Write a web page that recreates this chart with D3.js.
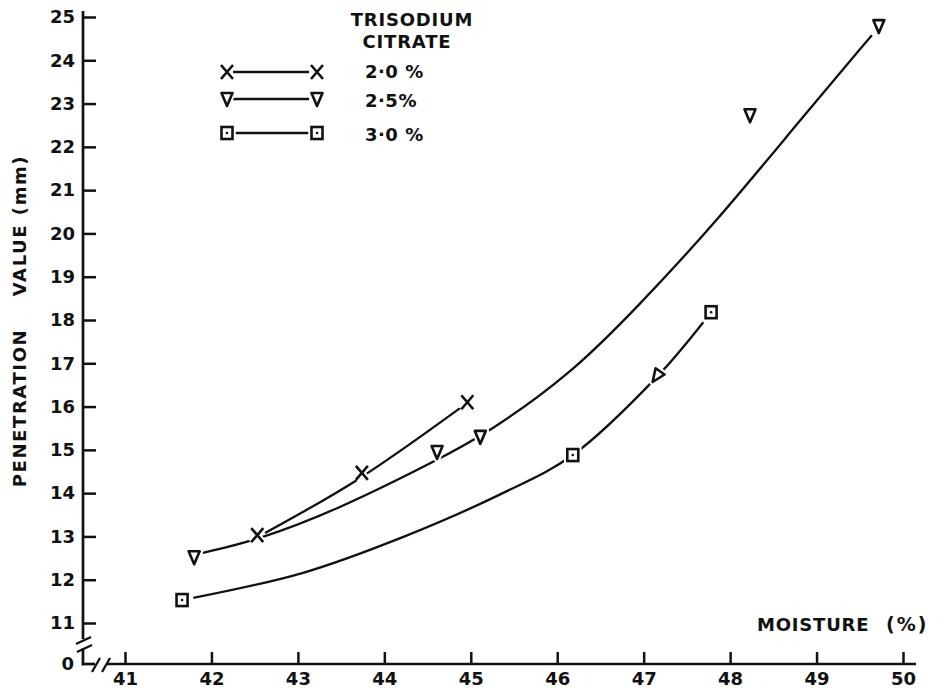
<!DOCTYPE html>
<html>
<head>
<meta charset="utf-8">
<script src="https://cdn.jsdelivr.net/npm/d3@7"></script>
<style>
  html, body { margin: 0; padding: 0; background: #fff; }
  svg { display: block; }
  text { font-family: "DejaVu Sans", sans-serif; font-weight: bold; fill: #111; }
</style>
</head>
<body>
<svg id="chart" width="945" height="688"></svg>
<script>
// ---- data ----
const xTicks = [41, 42, 43, 44, 45, 46, 47, 48, 49, 50];
const yTicks = [11, 12, 13, 14, 15, 16, 17, 18, 19, 20, 21, 22, 23, 24, 25];

const seriesNames = ["2\u00B70 %", "2\u00B75%", "3\u00B70 %"];
const legendTitle = ["TRISODIUM", "CITRATE"];

// measured points
const moisture20 = [42.53, 43.74, 44.96];
const penetration20 = [13.03, 14.47, 16.10];

const moisture25 = [41.80, 44.61, 45.11, 48.23, 49.72];
const penetration25 = [12.52, 14.95, 15.30, 22.73, 24.79];

const moisture30 = [41.66, 46.18, 47.15, 47.78];
const penetration30 = [11.53, 14.88, 16.70, 18.18];
const markers30 = ["square", "square", "triangle", "square"];

// hand-drawn fitted curves
const curve20X = [42.62, 43.68, 44.88];
const curve20Y = [13.08, 14.30, 15.97];

const curve25X = [41.90, 42.54, 43.45, 44.61, 45.22, 46.15, 46.92, 47.86, 48.81, 49.64];
const curve25Y = [12.62, 12.92, 13.61, 14.76, 15.42, 16.74, 18.28, 20.31, 22.62, 24.58];

const curve30X = [41.79, 43.06, 44.22, 45.37, 46.18, 47.15, 47.69];
const curve30Y = [11.58, 12.16, 12.99, 14.00, 14.88, 16.68, 17.95];

// ---- drawing ----
const svg = d3.select("#chart");
const ink = "#111";
const fs = "18px";

const x = d3.scaleLinear().domain([41, 50]).range([125, 903]);
const y = d3.scaleLinear().domain([11, 25]).range([623, 17]);

const axisX = 83;          // position of y axis line
const axisY = 664;         // position of x axis line

// Y axis ticks + labels
const gy = svg.append("g").attr("transform", `translate(${axisX},0)`)
  .call(d3.axisLeft(y).tickValues(yTicks).tickSizeInner(-13).tickSizeOuter(0).tickPadding(8).tickFormat(d3.format("d")));
gy.select(".domain").remove();
gy.selectAll(".tick line").attr("stroke", ink).attr("stroke-width", 2.5);
gy.selectAll(".tick text").style("font-size", fs).style("font-family", "DejaVu Sans").style("font-weight", "bold").attr("fill", ink);

// X axis ticks + labels
const gx = svg.append("g").attr("transform", `translate(0,${axisY})`)
  .call(d3.axisBottom(x).tickValues(xTicks).tickSizeInner(-12).tickSizeOuter(0).tickPadding(8).tickFormat(d3.format("d")));
gx.select(".domain").remove();
gx.selectAll(".tick line").attr("stroke", ink).attr("stroke-width", 2.5);
gx.selectAll(".tick text").style("font-size", fs).style("font-family", "DejaVu Sans").style("font-weight", "bold").attr("fill", ink);

// axis lines with breaks
const axisG = svg.append("g").attr("stroke", ink).attr("stroke-width", 2.7).attr("fill", "none").attr("stroke-linecap", "butt");
axisG.append("line").attr("x1", axisX).attr("x2", axisX).attr("y1", 11).attr("y2", 639);
axisG.append("line").attr("x1", axisX).attr("x2", axisX).attr("y1", 648).attr("y2", axisY + 1.3);
axisG.append("line").attr("x1", axisX - 1.3).attr("x2", 95).attr("y1", axisY).attr("y2", axisY);
axisG.append("line").attr("x1", 107).attr("x2", 916).attr("y1", axisY).attr("y2", axisY);
// break slashes
const breakG = svg.append("g").attr("stroke", ink).attr("stroke-width", 2.3).attr("fill", "none");
breakG.append("line").attr("x1", 76).attr("y1", 644).attr("x2", 91).attr("y2", 637);
breakG.append("line").attr("x1", 77).attr("y1", 652).attr("x2", 92).attr("y2", 645);
breakG.append("line").attr("x1", 92).attr("y1", 672).attr("x2", 100).attr("y2", 658);
breakG.append("line").attr("x1", 102).attr("y1", 672).attr("x2", 110).attr("y2", 658);

// "0" label at the origin
svg.append("text").attr("x", axisX - 9).attr("y", axisY).attr("dy", "0.36em")
  .attr("text-anchor", "end").style("font-size", fs).text("0");

// axis titles
const yTitle = [["PENETRATION", 408], ["VALUE", 260], ["(mm)", 185]];
yTitle.forEach(([t, cy]) => {
  svg.append("text").attr("transform", `translate(26,${cy}) rotate(-90)`)
    .attr("text-anchor", "middle").style("font-size", fs).style("letter-spacing", "1.6px").text(t);
});
svg.append("text").attr("x", 757).attr("y", 631).style("font-size", fs).style("letter-spacing", "0.8px").text("MOISTURE");
svg.append("text").attr("x", 886).attr("y", 631).style("font-size", "19px").style("letter-spacing", "2px").text("(%)");

// curves
const lineCR = d3.line().x(d => x(d[0])).y(d => y(d[1])).curve(d3.curveCatmullRom.alpha(0.5));
const lineB = d3.line().x(d => x(d[0])).y(d => y(d[1])).curve(d3.curveBasis);
const cg = svg.append("g").attr("fill", "none").attr("stroke", ink).attr("stroke-width", 2.3);
cg.append("path").attr("d", lineCR(d3.zip(curve20X, curve20Y)));
cg.append("path").attr("d", lineB(d3.zip(curve25X, curve25Y)));
cg.append("path").attr("d", lineCR(d3.zip(curve30X, curve30Y)));

// marker shapes
function drawMarker(g, type, cx, cy, rot) {
  const m = g.append("g").attr("transform", `translate(${cx},${cy}) rotate(${rot || 0})`);
  const layers = [["#fff", 6.5], [ink, 2.6]];
  layers.forEach(([col, w]) => {
    if (type === "x") {
      m.append("path").attr("d", "M-6,-7 L6,7 M6,-7 L-6,7")
        .attr("stroke", col).attr("stroke-width", w).attr("fill", "none");
    } else if (type === "triangle") {
      m.append("path").attr("d", "M-5.5,-6 L5.5,-6 L0,7 Z")
        .attr("stroke", col).attr("stroke-width", w).attr("fill", "#fff").attr("stroke-linejoin", "round");
    } else {
      m.append("rect").attr("x", -5.5).attr("y", -6).attr("width", 11).attr("height", 12)
        .attr("stroke", col).attr("stroke-width", w).attr("fill", "#fff");
    }
  });
  if (type === "square") m.append("circle").attr("r", 1.3).attr("fill", ink);
}

const pts = svg.append("g");
moisture20.forEach((m, i) => drawMarker(pts, "x", x(m), y(penetration20[i])));
moisture25.forEach((m, i) => drawMarker(pts, "triangle", x(m), y(penetration25[i])));
moisture30.forEach((m, i) => drawMarker(pts, markers30[i], x(m), y(penetration30[i]), markers30[i] === "triangle" ? 35 : 0));

// legend
const leg = svg.append("g");
leg.append("text").attr("x", 412).attr("y", 26).attr("text-anchor", "middle")
  .style("font-size", fs).style("letter-spacing", "0.8px").text(legendTitle[0]);
leg.append("text").attr("x", 407).attr("y", 48).attr("text-anchor", "middle")
  .style("font-size", fs).style("letter-spacing", "0.8px").text(legendTitle[1]);
const legRows = [["x", 72, 78], ["triangle", 99, 107], ["square", 133, 141]];
legRows.forEach(([type, ly, ty], i) => {
  leg.append("line").attr("x1", 233).attr("x2", 309).attr("y1", ly).attr("y2", ly)
    .attr("stroke", ink).attr("stroke-width", 2.3);
  drawMarker(leg, type, 227, ly);
  drawMarker(leg, type, 317, ly);
  leg.append("text").attr("x", 365).attr("y", ty).style("font-size", fs)
    .style("letter-spacing", "0.5px").text(seriesNames[i]);
});
</script>
</body>
</html>
